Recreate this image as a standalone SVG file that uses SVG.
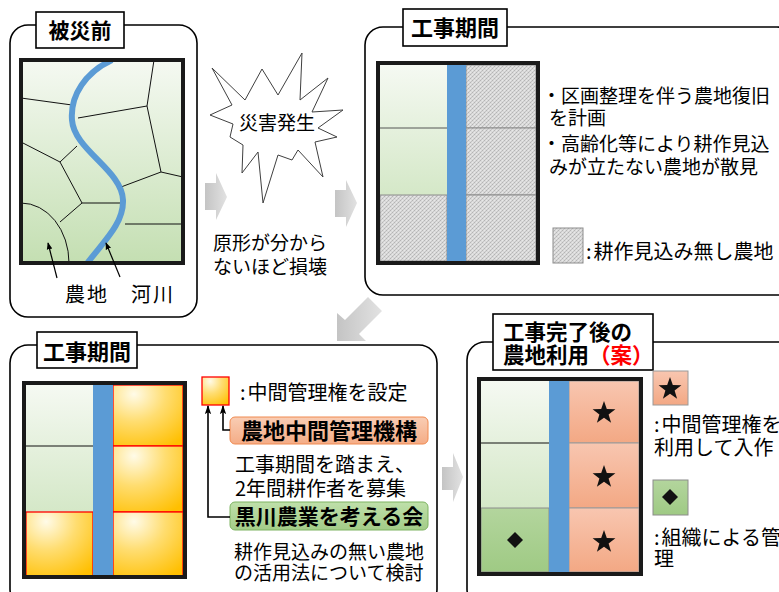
<svg xmlns="http://www.w3.org/2000/svg" xmlns:xlink="http://www.w3.org/1999/xlink" width="779" height="592" viewBox="0 0 779 592">
  <style>
    text { font-family: "Noto Sans CJK JP", "Noto Sans", sans-serif; fill: #000; }
    .panel { fill: #fff; stroke: #000; stroke-width: 1.6; }
    .tbox { fill: #fff; stroke: #000; stroke-width: 1.6; }
    .title { font-weight: bold; font-size: 21px; }
    .body { font-size: 19px; }
    .frame { fill: none; stroke: #1a1a1a; stroke-width: 4; }
    .river { fill: #5b9bd5; }
    .hatch { fill: url(#hatch); stroke: #8c8c8c; stroke-width: 1; }
    .orng { fill: url(#orange); stroke: #ff0000; stroke-width: 1.3; }
    .salm { fill: url(#salmon); stroke: #9a9a9a; stroke-width: 1; }
    .plot { fill: none; stroke: #111; stroke-width: 1; }
    .garrow { fill: url(#grayArrow); }
    .ptr { fill: none; stroke: #000; stroke-width: 1.2; marker-end: url(#tip); }
    .link { fill: none; stroke: #000; stroke-width: 1.6; marker-end: url(#tipB); }
  </style>
  <defs>
    <linearGradient id="field" x1="0" y1="0" x2="0" y2="1">
      <stop offset="0" stop-color="#f5f9f2"/>
      <stop offset="1" stop-color="#c4dfb2"/>
    </linearGradient>
    <linearGradient id="salmon" x1="0" y1="0" x2="0" y2="1">
      <stop offset="0" stop-color="#f8c6b0"/>
      <stop offset="1" stop-color="#f3a884"/>
    </linearGradient>
    <linearGradient id="leaf" x1="0" y1="0" x2="0" y2="1">
      <stop offset="0" stop-color="#b3d59d"/>
      <stop offset="1" stop-color="#9fca84"/>
    </linearGradient>
    <radialGradient id="orange" cx="0.3" cy="0.15" r="1">
      <stop offset="0" stop-color="#fffbe8"/>
      <stop offset="0.45" stop-color="#ffdd70"/>
      <stop offset="1" stop-color="#ffbf00"/>
    </radialGradient>
    <linearGradient id="grayArrow" x1="0" y1="0" x2="1" y2="0">
      <stop offset="0" stop-color="#c4c4c4"/>
      <stop offset="1" stop-color="#e2e2e2"/>
    </linearGradient>
    <linearGradient id="salmonBox" x1="0" y1="0" x2="0" y2="1">
      <stop offset="0" stop-color="#f9cdb4"/>
      <stop offset="1" stop-color="#f4ac86"/>
    </linearGradient>
    <linearGradient id="greenBox" x1="0" y1="0" x2="0" y2="1">
      <stop offset="0" stop-color="#bfe0aa"/>
      <stop offset="1" stop-color="#a3cc88"/>
    </linearGradient>
    <!-- fine grey stipple for fallow plots -->
    <pattern id="hatch" width="4" height="4" patternUnits="userSpaceOnUse">
      <rect width="4" height="4" fill="#dadada"/>
      <rect x="0" y="0" width="1" height="1" fill="#b4b4b4"/>
      <rect x="2" y="2" width="1" height="1" fill="#b4b4b4"/>
      <rect x="1" y="3" width="1" height="1" fill="#c4c4c4"/>
      <rect x="3" y="1" width="1" height="1" fill="#c4c4c4"/>
      <rect x="2" y="0" width="1" height="1" fill="#e8e8e8"/>
      <rect x="0" y="2" width="1" height="1" fill="#e8e8e8"/>
    </pattern>
    <marker id="tip" viewBox="0 0 10 10" refX="9" refY="5" markerWidth="7" markerHeight="7" orient="auto" markerUnits="userSpaceOnUse">
      <path d="M0,1 L10,5 L0,9 Z" fill="#000"/>
    </marker>
    <marker id="tipB" viewBox="0 0 10 10" refX="9" refY="5" markerWidth="9" markerHeight="9" orient="auto" markerUnits="userSpaceOnUse">
      <path d="M0,1.5 L10,5 L0,8.5 L2,5 Z" fill="#000"/>
    </marker>
    <path id="star" d="M0,-12 L2.8,-3.9 L11.4,-3.7 L4.6,1.5 L7.1,9.7 L0,4.8 L-7.1,9.7 L-4.6,1.5 L-11.4,-3.7 L-2.8,-3.9 Z" fill="#111"/>
    <path id="dia" d="M0,-8 L8,0 L0,8 L-8,0 Z" fill="#111"/>
    <clipPath id="mapClip1"><rect x="21" y="60" width="162" height="203"/></clipPath>
  </defs>

  <!-- panel 1: before the disaster -->
  <g id="panel-before">
    <rect class="panel" x="10" y="25" width="187" height="292" rx="18"/>
    <rect class="tbox" x="36" y="12" width="88" height="36"/>
    <text class="title" x="80" y="38" text-anchor="middle">被災前</text>
    <g clip-path="url(#mapClip1)">
      <rect x="21" y="60" width="162" height="203" fill="url(#field)"/>
      <path class="plot" d="M21,98 L72,105 M78,118 L147,106 L154,60 M147,106 L161,172 L183,177 M161,172 L121,187 M21,142 L60,162 L77,146 M60,162 L82,203 L120,203 M82,203 L60,222 M21,203 A48,60 0 0 1 69,263 M125,224 L183,224"/>
      <path d="M112,60 C86,72 70,95 72,120 C74,150 122,170 123,200 C124,225 100,245 86,265" fill="none" stroke="#5b9bd5" stroke-width="6"/>
    </g>
    <rect class="frame" x="21" y="60" width="162" height="203"/>
    <text class="body" x="65" y="302" style="font-size:20px;letter-spacing:2px">農地</text>
    <text class="body" x="131" y="302" style="font-size:20px;letter-spacing:2px">河川</text>
  </g>

  <!-- disaster burst and caption -->
  <g id="burst">
    <polygon points="212,68 245,100 262,69 278,95 302,53 300,100 328,78 312,112 343,110 318,128 337,137 315,142 323,177 298,150 292,160 278,155 263,203 258,152 242,173 243,145 230,137 233,124 210,115 232,105" fill="#fff" stroke="#404040" stroke-width="1"/>
    <text class="body" x="277" y="130" text-anchor="middle">災害発生</text>
  </g>
  <g id="caption-damage">
    <text class="body" x="213" y="250">原形が分から</text>
    <text class="body" x="213" y="274">ないほど損壊</text>
  </g>

  <!-- panel 2: during construction -->
  <g id="panel-construction">
    <rect class="panel" x="365" y="27" width="430" height="268" rx="18"/>
    <rect class="tbox" x="403" y="9" width="104" height="37"/>
    <text class="title" x="455" y="36" text-anchor="middle" style="font-size:22px">工事期間</text>
    <rect x="380" y="65" width="67" height="196" fill="url(#field)"/>
    <line x1="380" y1="128" x2="447" y2="128" stroke="#555" stroke-width="1"/>
    <rect class="hatch" x="380" y="195" width="67" height="66"/>
    <rect class="hatch" x="466" y="65" width="70" height="63"/>
    <rect class="hatch" x="466" y="128" width="70" height="67"/>
    <rect class="hatch" x="466" y="195" width="70" height="66"/>
    <rect class="river" x="447" y="65" width="19" height="196"/>
    <rect class="frame" x="378" y="63" width="160" height="200"/>
    <text class="body" x="542" y="103">・区画整理を伴う農地復旧</text>
    <text class="body" x="549" y="125">を計画</text>
    <text class="body" x="542" y="151">・高齢化等により耕作見込</text>
    <text class="body" x="549" y="174">みが立たない農地が散見</text>
    <rect class="hatch" x="553" y="228" width="30" height="35"/>
    <text class="body" x="586" y="259" style="font-size:20px">:<tspan dx="2">耕作見込み無し農地</tspan></text>
  </g>

  <!-- panel 3: construction period, interim management -->
  <g id="panel-interim">
    <rect class="panel" x="10" y="345" width="427" height="262" rx="18"/>
    <rect class="tbox" x="37" y="332" width="100" height="36"/>
    <text class="title" x="87" y="360" text-anchor="middle" style="font-size:22px">工事期間</text>
    <rect x="26" y="385" width="67" height="191" fill="url(#field)"/>
    <line x1="26" y1="446" x2="93" y2="446" stroke="#111" stroke-width="1.2"/>
    <rect class="orng" x="26" y="512" width="67" height="64"/>
    <rect class="orng" x="113" y="385" width="70" height="61"/>
    <rect class="orng" x="113" y="446" width="70" height="66"/>
    <rect class="orng" x="113" y="512" width="70" height="64"/>
    <rect class="river" x="93" y="385" width="20" height="191"/>
    <rect class="frame" x="24" y="383" width="161" height="194"/>
    <rect class="orng" x="202" y="377" width="27" height="28"/>
    <text class="body" x="240" y="400" style="font-size:20px">:<tspan dx="2">中間管理権を設定</tspan></text>
  </g>

  <g id="org-kikou">
    <rect x="230" y="417" width="198" height="27" rx="5" fill="url(#salmonBox)" stroke="#f08a50" stroke-width="1"/>
    <text x="329" y="439" text-anchor="middle" style="font-weight:bold;font-size:22px">農地中間管理機構</text>
  </g>
  <g id="note-recruit">
    <text class="body" x="235" y="472" style="font-size:20px">工事期間を踏まえ、</text>
    <text class="body" x="235" y="496" style="font-size:20px">2年間耕作者を募集</text>
  </g>
  <g id="org-kurokawa">
    <rect x="230" y="502" width="198" height="28" rx="5" fill="url(#greenBox)" stroke="#7fb463" stroke-width="1"/>
    <text x="329" y="524" text-anchor="middle" style="font-weight:bold;font-size:21px">黒川農業を考える会</text>
  </g>
  <g id="note-study">
    <text class="body" x="234" y="559">耕作見込みの無い農地</text>
    <text class="body" x="234" y="580">の活用法について検討</text>
  </g>

  <!-- panel 4: land use after completion -->
  <g id="panel-after">
    <rect class="panel" x="467" y="342" width="330" height="265" rx="18"/>
    <rect class="tbox" x="493" y="314" width="160" height="56"/>
    <text class="title" x="503" y="340" style="font-size:21.5px">工事完了後の</text>
    <text class="title" x="503" y="363" style="font-size:21.5px">農地利用<tspan fill="#ff0000">（案）</tspan></text>
    <rect x="481" y="381" width="68" height="191" fill="url(#field)"/>
    <line x1="481" y1="443" x2="549" y2="443" stroke="#111" stroke-width="1.2"/>
    <rect x="481" y="508" width="68" height="64" fill="url(#leaf)" stroke="#8c8c8c" stroke-width="1"/>
    <rect class="salm" x="569" y="381" width="70" height="62"/>
    <rect class="salm" x="569" y="443" width="70" height="65"/>
    <rect class="salm" x="569" y="508" width="70" height="64"/>
    <rect class="river" x="549" y="381" width="20" height="191"/>
    <rect class="frame" x="479" y="379" width="162" height="195"/>
    <use href="#star" x="604" y="413"/>
    <use href="#star" x="604" y="477"/>
    <use href="#star" x="604" y="542"/>
    <use href="#dia" x="515" y="540"/>
    <rect class="salm" x="653" y="371" width="35" height="34"/>
    <use href="#star" x="670" y="389"/>
    <text class="body" x="654" y="432" style="font-size:20px">:<tspan dx="2">中間管理権を</tspan></text>
    <text class="body" x="654" y="455" style="font-size:20px">利用して入作</text>
    <rect x="653" y="480" width="35" height="35" fill="url(#leaf)" stroke="#8c8c8c" stroke-width="1"/>
    <use href="#dia" x="670" y="497"/>
    <text class="body" x="654" y="545" style="font-size:20px">:<tspan dx="2">組織による管</tspan></text>
    <text class="body" x="654" y="566" style="font-size:20px">理</text>
  </g>

  <!-- connectors -->
  <g id="connectors">
    <polygon class="garrow" points="205,183 216,183 216,173 227,197 216,220 216,210 205,210"/>
    <polygon class="garrow" points="335,190 346,190 346,180 357,203 346,227 346,217 335,217"/>
    <polygon class="garrow" points="368,297 382,311 359,334 366,341 337,341 337,313 345,320"/>
    <polygon class="garrow" points="442,467 453,467 453,453 463,477 453,502 453,490 442,490"/>
    <path class="ptr" d="M57,278 L48,243"/>
    <path class="ptr" d="M120,277 L106,243"/>
    <path class="link" d="M230,430 H223 V406"/>
    <path class="link" d="M230,517 H208 V406"/>
  </g>
</svg>
